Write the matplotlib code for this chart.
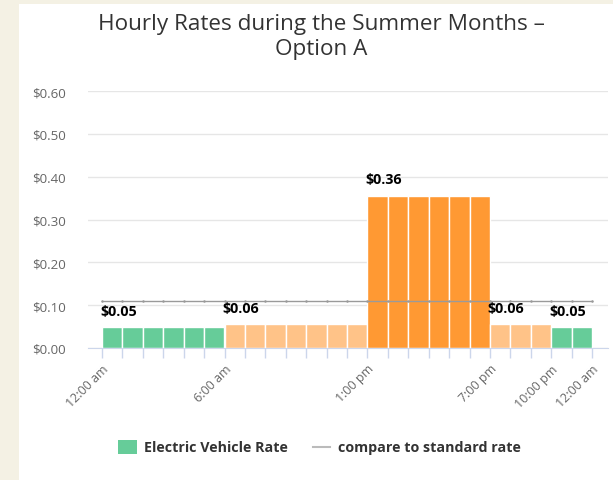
import matplotlib
matplotlib.use("Agg")
import matplotlib.pyplot as plt
from matplotlib.patches import Rectangle
from matplotlib.lines import Line2D

# ---- data ----
hours = list(range(24))
rates = [0.048]*6 + [0.055]*7 + [0.356]*6 + [0.055]*3 + [0.048]*2
period = ["off"]*6 + ["mid"]*7 + ["peak"]*6 + ["mid"]*3 + ["off"]*2
label_hours = [0, 6, 13, 19, 22]
label_texts = ["$0.05", "$0.06", "$0.36", "$0.06", "$0.05"]
standard_hours = list(range(25))
standard_rate = [0.1105]*25
tick_pos = [0, 6, 13, 19, 22, 24]
tick_labels = ["12:00 am", "6:00 am", "1:00 pm", "7:00 pm", "10:00 pm", "12:00 am"]
yticks = [0.0, 0.1, 0.2, 0.3, 0.4, 0.5, 0.6]
title = "Hourly Rates during the Summer Months \u2013\nOption A"

colors = {"off": "#66cc99", "mid": "#ffc388", "peak": "#ff9933"}

W, H = 613, 481
fig = plt.figure(figsize=(W/100, H/100), dpi=100)
fig.patch.set_facecolor("#f4f1e4")
fig.add_artist(Rectangle((19/W, 0), 1, 1 - 5/H, transform=fig.transFigure,
                         facecolor="white", edgecolor="none", zorder=0))

font = ["Open Sans", "DejaVu Sans"]

x0, x1 = 102, 592
ax_left, ax_right = 88, 608
y_top, y_bot = 92, 349
ax = fig.add_axes([ax_left/W, 1 - y_bot/H, (ax_right-ax_left)/W, (y_bot-y_top)/H])
ax.set_facecolor("none")
ppu = (x1 - x0) / 24
ax.set_xlim(-(x0-ax_left)/ppu, 24 + (ax_right-x1)/ppu)
ax.set_ylim(0, 0.6)

ax.bar([h + 0.5 for h in hours], rates, width=1.0,
       color=[colors[p] for p in period], edgecolor="white", linewidth=1.0, zorder=2)

ax.plot(standard_hours, standard_rate, color="#9a9a9a", linewidth=1.0,
        marker="o", markersize=0.8, zorder=3)

for h, t in zip(label_hours, label_texts):
    ax.annotate(t, (h, rates[h]), xytext=(-1.5, 7), textcoords="offset points",
                ha="left", va="bottom", fontsize=10.3, fontweight="bold",
                color="#000000", family=font, zorder=4)

ax.set_yticks(yticks)
ax.set_yticklabels([f"${v:.2f}" for v in yticks])
ax.yaxis.grid(True, color="#e6e6e6", linewidth=1)
ax.set_axisbelow(True)
ax.tick_params(axis="y", length=0, pad=16, labelsize=9.6, labelcolor="#666666")
for lb in ax.get_yticklabels():
    lb.set_family(font)

ax.set_xticks(list(range(25)), minor=True)
ax.set_xticks(tick_pos)
ax.set_xticklabels(tick_labels, rotation=45, ha="right", va="top",
                   rotation_mode="anchor")
ax.tick_params(axis="x", which="both", length=7, color="#ccd6eb", width=1,
               labelsize=9, labelcolor="#666666", pad=3)
for lb in ax.get_xticklabels():
    lb.set_family(font)

for s in ["top", "right", "left"]:
    ax.spines[s].set_visible(False)
ax.spines["bottom"].set_color("#ccd6eb")

fig.text(321/W, 1 - 37/H, title, ha="center", va="center", fontsize=16.2,
         color="#333333", family=font, linespacing=1.3)

# legend
ly = 1 - 448/H
fig.add_artist(Rectangle((118/W, 1 - 455/H), 19/W, 14/H, transform=fig.transFigure,
                         facecolor="#66cc99", edgecolor="none"))
fig.text(144/W, ly, "Electric Vehicle Rate", ha="left", va="center", fontsize=10.3,
         fontweight="bold", color="#333333", family=font)
fig.add_artist(Line2D([313/W, 330/W], [ly, ly], transform=fig.transFigure,
                      color="#bbbbbb", linewidth=1.5))
fig.text(338/W, ly, "compare to standard rate", ha="left", va="center", fontsize=10.3,
         fontweight="bold", color="#333333", family=font)

fig.savefig("out.png", dpi=100)
